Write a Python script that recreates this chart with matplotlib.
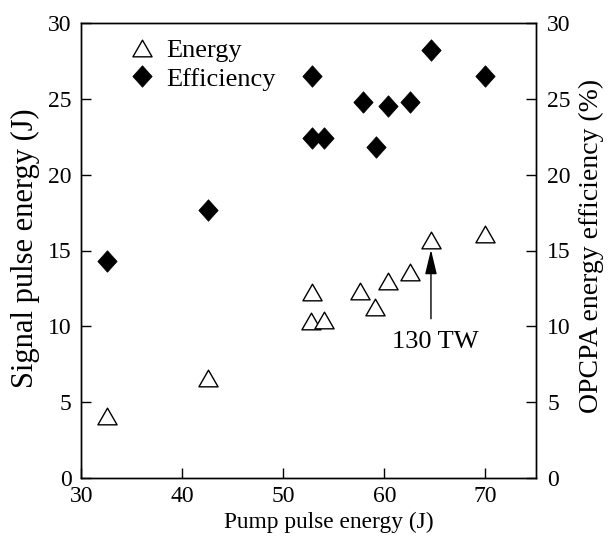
import matplotlib
matplotlib.use("Agg")
import matplotlib.pyplot as plt
from matplotlib.path import Path

plt.rcParams['font.family'] = ['Liberation Serif', 'DejaVu Serif']

pump_energy = [32.5, 42.5, 52.8, 52.7, 54.0, 57.6, 59.1, 60.3, 62.5, 64.6, 70.0]
signal_energy = [4.1, 6.6, 12.25, 10.35, 10.45, 12.35, 11.3, 13.0, 13.6, 15.7, 16.1]
pump_eff = [32.5, 42.5, 52.8, 52.8, 54.0, 57.9, 59.2, 60.3, 62.5, 64.6, 70.0]
efficiency = [14.3, 17.7, 26.5, 22.4, 22.45, 24.8, 21.8, 24.5, 24.8, 28.2, 26.5]
x_ticks = [30, 40, 50, 60, 70]
y_ticks = [0, 5, 10, 15, 20, 25, 30]
arrow_x = 64.6
arrow_y_tail, arrow_y_tip = 10.5, 15.05

tri = Path([(-1, -0.87), (1, -0.87), (0, 0.87), (-1, -0.87)],
           [Path.MOVETO, Path.LINETO, Path.LINETO, Path.CLOSEPOLY])
dia = Path([(0, -1), (0.9, 0), (0, 1), (-0.9, 0), (0, -1)],
           [Path.MOVETO, Path.LINETO, Path.LINETO, Path.LINETO, Path.CLOSEPOLY])

W, H = 613, 540
fig = plt.figure(figsize=(W / 100, H / 100), dpi=100)
L, R, T, B = 81.5, 536, 23, 478
ax = fig.add_axes([L / W, (H - B) / H, (R - L) / W, (B - T) / H])
ax2 = ax.twinx()

ax.scatter(pump_energy, signal_energy, marker=tri, s=190, facecolors='white',
           edgecolors='black', linewidths=1.0, label='Energy', zorder=3)
ax.scatter(pump_eff, efficiency, marker=dia, s=240, facecolors='black',
           edgecolors='black', linewidths=0.5, label='Efficiency', zorder=3)

ax.set_xlim(30, 75)
ax.set_ylim(0, 30)
ax2.set_ylim(0, 30)
ax.set_xticks(x_ticks)
ax.set_yticks(y_ticks)
ax2.set_yticks(y_ticks)

fs = 17
ax.tick_params(axis='x', direction='in', length=7.5, labelsize=fs, width=1, pad=6)
ax.tick_params(axis='y', direction='in', length=7.5, labelsize=fs, width=1, pad=7)
ax2.tick_params(axis='y', direction='in', length=7.5, labelsize=fs, width=1, pad=8)
for a in (ax, ax2):
    for sp in a.spines.values():
        sp.set_linewidth(1.0)

ax.set_xlabel('Pump pulse energy (J)', fontsize=16.8, va='center')
ax.xaxis.set_label_coords(0.5446, -0.0967)
ax.set_ylabel('Signal pulse energy (J)', fontsize=22, va='center')
ax.yaxis.set_label_coords(-0.124, 0.505)
ax2.set_ylabel('OPCPA energy efficiency (%)', fontsize=20, va='center')
ax2.yaxis.set_label_coords(1.121, 0.511)

ax.annotate('', xy=(arrow_x, arrow_y_tip), xytext=(arrow_x, arrow_y_tail),
            arrowprops=dict(arrowstyle='-|>,head_length=1.5,head_width=0.36',
                            color='black', lw=1.0, mutation_scale=10,
                            shrinkA=0, shrinkB=0))
ax.text(65.05, 8.55, '130 TW', fontsize=19, ha='center', va='baseline')

ax.legend(loc='upper left', bbox_to_anchor=(129 / W, 1 - 39 / H),
          bbox_transform=fig.transFigure, frameon=False, fontsize=19,
          handlelength=1.0, handletextpad=0.4, labelspacing=0.18,
          borderpad=0, borderaxespad=0, scatterpoints=1, scatteryoffsets=[0.5])

fig.savefig('out.png', dpi=100)
